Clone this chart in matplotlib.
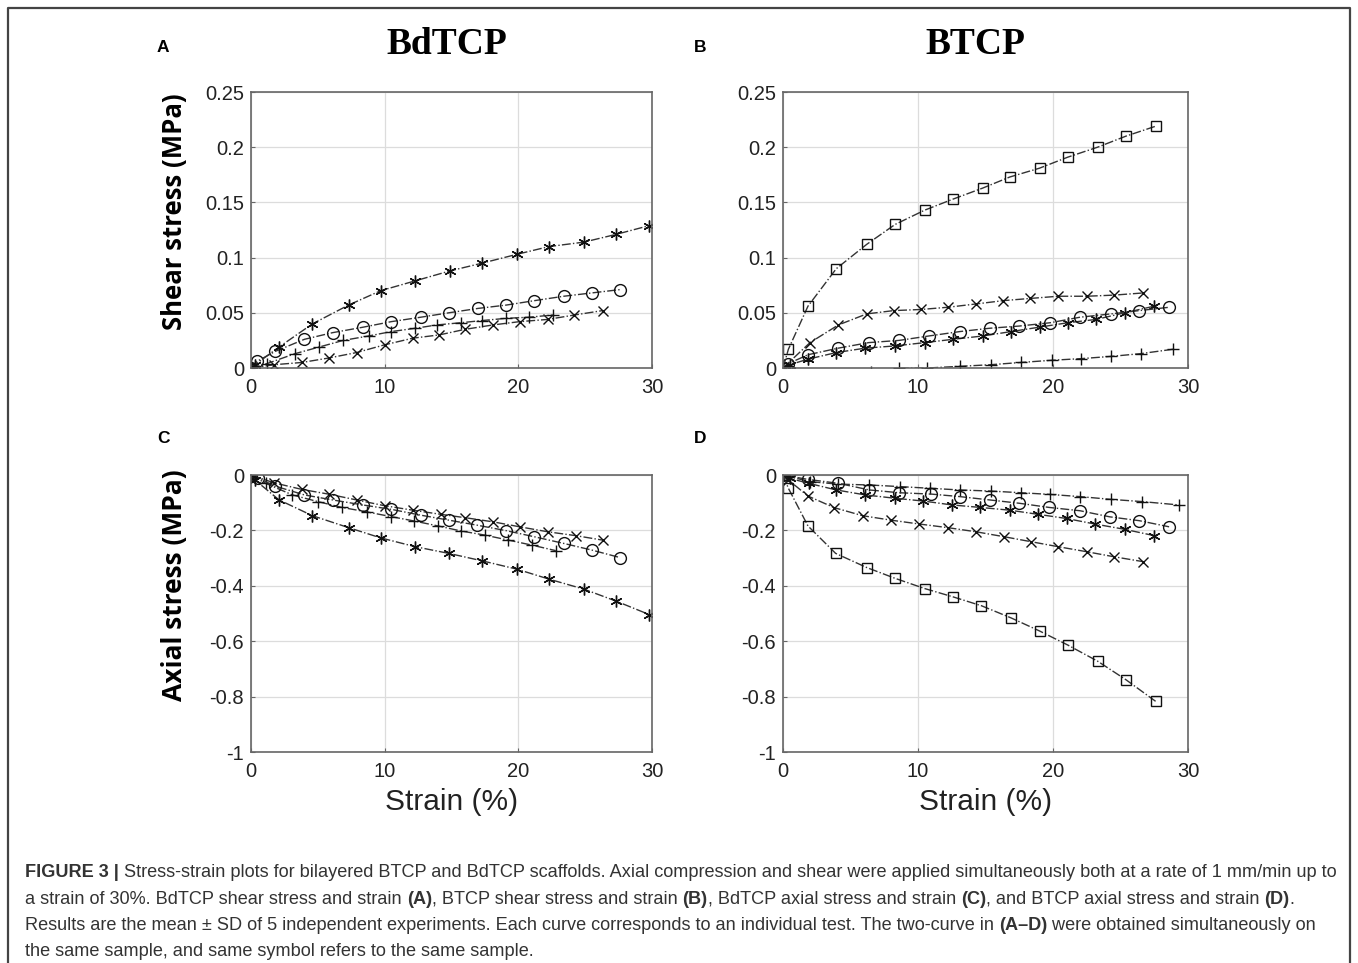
import matplotlib
matplotlib.use("Agg")

import matplotlib.pyplot as plt
import numpy as np

plt.rcParams["axes.unicode_minus"] = False

# ---- data (strain %, stress MPa) ----
# A: BdTCP shear
a_star_x = [0, 0.3, 2.1, 4.6, 7.3, 9.7, 12.3, 14.9, 17.3, 19.9, 22.3, 24.9, 27.3, 29.8]
a_star_y = [0, 0.003, 0.019, 0.040, 0.057, 0.070, 0.079, 0.088, 0.095, 0.103, 0.110, 0.114, 0.121, 0.129]
a_circ_x = [0, 0.45, 1.8, 4.0, 6.1, 8.4, 10.5, 12.7, 14.8, 17.0, 19.1, 21.2, 23.4, 25.5, 27.6]
a_circ_y = [0, 0.006, 0.015, 0.026, 0.032, 0.037, 0.042, 0.046, 0.050, 0.054, 0.057, 0.061, 0.065, 0.068, 0.071]
a_plus_x = [0, 1.2, 3.3, 5.1, 6.9, 8.8, 10.5, 12.3, 13.9, 15.7, 17.3, 19.1, 20.8, 22.6]
a_plus_y = [0, 0.004, 0.013, 0.019, 0.025, 0.029, 0.033, 0.036, 0.039, 0.041, 0.043, 0.045, 0.046, 0.048]
a_x_x = [0, 1.75, 3.8, 5.8, 7.9, 10.0, 12.1, 14.1, 16.0, 18.1, 20.1, 22.2, 24.2, 26.3]
a_x_y = [0, 0.003, 0.005, 0.009, 0.014, 0.021, 0.027, 0.030, 0.035, 0.039, 0.042, 0.044, 0.048, 0.052]

# B: BTCP shear
b_sq_x = [0, 0.4, 1.85, 3.95, 6.2, 8.3, 10.5, 12.6, 14.8, 16.8, 19.0, 21.1, 23.3, 25.4, 27.6]
b_sq_y = [0, 0.017, 0.056, 0.090, 0.112, 0.130, 0.143, 0.153, 0.163, 0.173, 0.181, 0.191, 0.200, 0.210, 0.219]
b_x_x = [0, 2.0, 4.1, 6.2, 8.2, 10.2, 12.2, 14.3, 16.3, 18.3, 20.4, 22.5, 24.5, 26.7]
b_x_y = [0, 0.023, 0.039, 0.049, 0.052, 0.053, 0.055, 0.058, 0.061, 0.063, 0.065, 0.065, 0.066, 0.068]
b_circ_x = [0, 0.4, 1.85, 4.1, 6.35, 8.6, 10.8, 13.1, 15.3, 17.5, 19.8, 22.0, 24.3, 26.4, 28.6]
b_circ_y = [0, 0.004, 0.012, 0.018, 0.023, 0.025, 0.029, 0.033, 0.036, 0.038, 0.041, 0.046, 0.049, 0.052, 0.055]
b_star_x = [0, 0.5, 1.85, 3.95, 6.1, 8.3, 10.5, 12.6, 14.8, 16.9, 19.0, 21.1, 23.2, 25.3, 27.5]
b_star_y = [0, 0.003, 0.008, 0.014, 0.018, 0.020, 0.023, 0.026, 0.029, 0.033, 0.037, 0.041, 0.044, 0.050, 0.056]
b_plus_x = [6.5, 8.6, 10.7, 13.1, 15.4, 17.6, 19.9, 22.1, 24.3, 26.5, 28.9]
b_plus_y = [-0.004, -0.0003, 0.0, 0.0015, 0.003, 0.005, 0.007, 0.0085, 0.0105, 0.013, 0.017]

# C: BdTCP axial
c_star_x = [0, 0.3, 2.1, 4.6, 7.3, 9.7, 12.3, 14.8, 17.3, 19.9, 22.3, 24.9, 27.3, 29.8]
c_star_y = [0, -0.018, -0.090, -0.147, -0.190, -0.227, -0.259, -0.283, -0.310, -0.340, -0.376, -0.412, -0.455, -0.504]
c_circ_x = [0, 0.55, 1.8, 4.0, 6.1, 8.35, 10.5, 12.7, 14.8, 16.9, 19.1, 21.2, 23.4, 25.5, 27.6]
c_circ_y = [0, -0.012, -0.040, -0.072, -0.090, -0.108, -0.124, -0.145, -0.163, -0.181, -0.201, -0.223, -0.247, -0.271, -0.298]
c_plus_x = [0, 1.1, 3.1, 5.0, 6.8, 8.65, 10.45, 12.2, 14.0, 15.7, 17.5, 19.25, 21.0, 22.8]
c_plus_y = [0, -0.030, -0.072, -0.096, -0.117, -0.133, -0.150, -0.166, -0.184, -0.202, -0.217, -0.235, -0.253, -0.273]
c_x_x = [0, 1.7, 3.8, 5.8, 7.9, 10.0, 12.1, 14.2, 16.0, 18.1, 20.1, 22.2, 24.3, 26.3]
c_x_y = [0, -0.028, -0.052, -0.069, -0.090, -0.111, -0.127, -0.142, -0.154, -0.169, -0.187, -0.205, -0.219, -0.235]

# D: BTCP axial
d_sq_x = [0, 0.4, 1.85, 3.9, 6.2, 8.3, 10.5, 12.6, 14.7, 16.9, 19.0, 21.1, 23.3, 25.4, 27.6]
d_sq_y = [0, -0.048, -0.184, -0.283, -0.334, -0.373, -0.410, -0.440, -0.472, -0.516, -0.563, -0.614, -0.672, -0.739, -0.817]
d_x_x = [0, 0.4, 1.85, 3.8, 5.9, 8.0, 10.1, 12.2, 14.3, 16.4, 18.4, 20.4, 22.5, 24.5, 26.7]
d_x_y = [0, -0.018, -0.076, -0.118, -0.147, -0.163, -0.177, -0.190, -0.205, -0.223, -0.241, -0.259, -0.277, -0.295, -0.313]
d_star_x = [0, 0.5, 1.9, 3.95, 6.1, 8.3, 10.4, 12.5, 14.6, 16.8, 18.9, 21.0, 23.1, 25.3, 27.5]
d_star_y = [0, -0.012, -0.030, -0.054, -0.072, -0.084, -0.094, -0.108, -0.117, -0.127, -0.142, -0.157, -0.177, -0.196, -0.219]
d_circ_x = [0, 1.85, 4.1, 6.4, 8.6, 11.0, 13.1, 15.3, 17.5, 19.7, 22.0, 24.2, 26.4, 28.6]
d_circ_y = [0, -0.016, -0.030, -0.054, -0.064, -0.069, -0.078, -0.090, -0.102, -0.117, -0.129, -0.151, -0.165, -0.187]
d_plus_x = [0, 2.0, 4.1, 6.4, 8.7, 10.9, 13.1, 15.4, 17.6, 19.75, 22.0, 24.3, 26.6, 29.3]
d_plus_y = [0, -0.024, -0.033, -0.036, -0.042, -0.048, -0.054, -0.058, -0.064, -0.070, -0.078, -0.088, -0.096, -0.108]

shear_ticks = [0, 0.05, 0.1, 0.15, 0.2, 0.25]
shear_labels = ["0", "0.05", "0.1", "0.15", "0.2", "0.25"]
axial_ticks = [-1, -0.8, -0.6, -0.4, -0.2, 0]
axial_labels = ["-1", "-0.8", "-0.6", "-0.4", "-0.2", "0"]
strain_ticks = [0, 10, 20, 30]

ASTERISK = (6, 2, 0)
mk = {
    "star": dict(marker=ASTERISK, ms=8.5),
    "circ": dict(marker="o", ms=8.5, mfc="none"),
    "plus": dict(marker="+", ms=8.5),
    "x": dict(marker="x", ms=6.5),
    "sq": dict(marker="s", ms=6.5, mfc="none"),
}

fig = plt.figure(figsize=(13.58, 9.63), dpi=100)

W, H = 1358, 963


def px_axes(x0, y0, x1, y1):
    return fig.add_axes([x0 / W, 1 - y1 / H, (x1 - x0) / W, (y1 - y0) / H])


def style(ax, yt, yl, ylim):
    ax.set_xlim(0, 30)
    ax.set_ylim(*ylim)
    ax.set_xticks(strain_ticks)
    ax.set_xticklabels([str(t) for t in strain_ticks])
    ax.set_yticks(yt)
    ax.set_yticklabels(yl)
    ax.grid(True, color="#dcdcdc", linewidth=0.9)
    ax.set_axisbelow(True)
    ax.tick_params(direction="in", length=3, color="#666666", labelsize=14.5,
                   labelcolor="#222222")
    ax.tick_params(axis="x", pad=7)
    ax.tick_params(axis="y", pad=5)
    for t in ax.get_xticklabels() + ax.get_yticklabels():
        t.set_fontfamily("Liberation Sans")
    for s in ax.spines.values():
        s.set_color("#666666")
        s.set_linewidth(1.2)


def draw(ax, xs, ys, kind):
    ax.plot(xs, ys, linestyle="-.", color="#333333", linewidth=1.0,
            mec="#111111", mew=1.0, clip_on=True, **mk[kind])


axA = px_axes(251, 92, 652, 368)
axB = px_axes(783, 92, 1188, 368)
axC = px_axes(251, 475, 652, 752)
axD = px_axes(783, 475, 1188, 752)

draw(axA, a_x_x, a_x_y, "x")
draw(axA, a_plus_x, a_plus_y, "plus")
draw(axA, a_circ_x, a_circ_y, "circ")
draw(axA, a_star_x, a_star_y, "star")

draw(axB, b_plus_x, b_plus_y, "plus")
draw(axB, b_star_x, b_star_y, "star")
draw(axB, b_circ_x, b_circ_y, "circ")
draw(axB, b_x_x, b_x_y, "x")
draw(axB, b_sq_x, b_sq_y, "sq")

draw(axC, c_x_x, c_x_y, "x")
draw(axC, c_plus_x, c_plus_y, "plus")
draw(axC, c_circ_x, c_circ_y, "circ")
draw(axC, c_star_x, c_star_y, "star")

draw(axD, d_plus_x, d_plus_y, "plus")
draw(axD, d_circ_x, d_circ_y, "circ")
draw(axD, d_star_x, d_star_y, "star")
draw(axD, d_x_x, d_x_y, "x")
draw(axD, d_sq_x, d_sq_y, "sq")

style(axA, shear_ticks, shear_labels, (0, 0.25))
style(axB, shear_ticks, shear_labels, (0, 0.25))
style(axC, axial_ticks, axial_labels, (-1, 0))
style(axD, axial_ticks, axial_labels, (-1, 0))

for ax in (axC, axD):
    ax.set_xlabel("Strain (%)", fontsize=21.5, fontfamily="Liberation Sans",
                  color="#222222", labelpad=5)

fig.text(175 / W, 1 - 212 / H, "Shear stress (MPa)", rotation=90, ha="center",
         va="center", fontsize=18.5, fontweight="bold", fontfamily="Open Sans")
fig.text(175 / W, 1 - 585 / H, "Axial stress (MPa)", rotation=90, ha="center",
         va="center", fontsize=19, fontweight="bold", fontfamily="Open Sans")

# panel letters and titles
for lx, ly, lab in [(163, 47, "A"), (700, 47, "B"), (163, 438, "C"), (700, 438, "D")]:
    fig.text(lx / W, 1 - ly / H, lab, ha="center", va="center", fontsize=12.5,
             fontweight="bold", fontfamily="Liberation Sans")
fig.text(447 / W, 1 - 45 / H, "BdTCP", ha="center", va="center", fontsize=27,
         fontweight="bold", fontfamily="Liberation Serif")
fig.text(975 / W, 1 - 45 / H, "BTCP", ha="center", va="center", fontsize=27,
         fontweight="bold", fontfamily="Liberation Serif")

# outer frame (top, left, right)
fig.add_artist(plt.Line2D([8 / W, 8 / W, 1350 / W, 1350 / W],
                          [0, 1 - 8 / H, 1 - 8 / H, 0],
                          color="#444444", linewidth=1.6))

# caption with bold runs
caption = [
    [("FIGURE 3 |", True), (" Stress-strain plots for bilayered BTCP and BdTCP scaffolds. Axial compression and shear were applied simultaneously both at a rate of 1 mm/min up to", False)],
    [("a strain of 30%. BdTCP shear stress and strain ", False), ("(A)", True), (", BTCP shear stress and strain ", False), ("(B)", True),
     (", BdTCP axial stress and strain ", False), ("(C)", True), (", and BTCP axial stress and strain ", False), ("(D)", True), (".", False)],
    [("Results are the mean \u00b1 SD of 5 independent experiments. Each curve corresponds to an individual test. The two-curve in ", False),
     ("(A\u2013D)", True), (" were obtained simultaneously on", False)],
    [("the same sample, and same symbol refers to the same sample.", False)],
]
line_y = [872, 899, 925, 951]

fig.canvas.draw()
renderer = fig.canvas.get_renderer()
for runs, yy in zip(caption, line_y):
    x = 25
    for txt, bold in runs:
        t = fig.text(x / W, 1 - yy / H, txt, ha="left", va="center", fontsize=13.1,
                     fontfamily="Liberation Sans",
                     fontweight="bold" if bold else "normal", color="#333333")
        bb = t.get_window_extent(renderer=renderer)
        x += bb.width

fig.savefig("out.png", dpi=100)
